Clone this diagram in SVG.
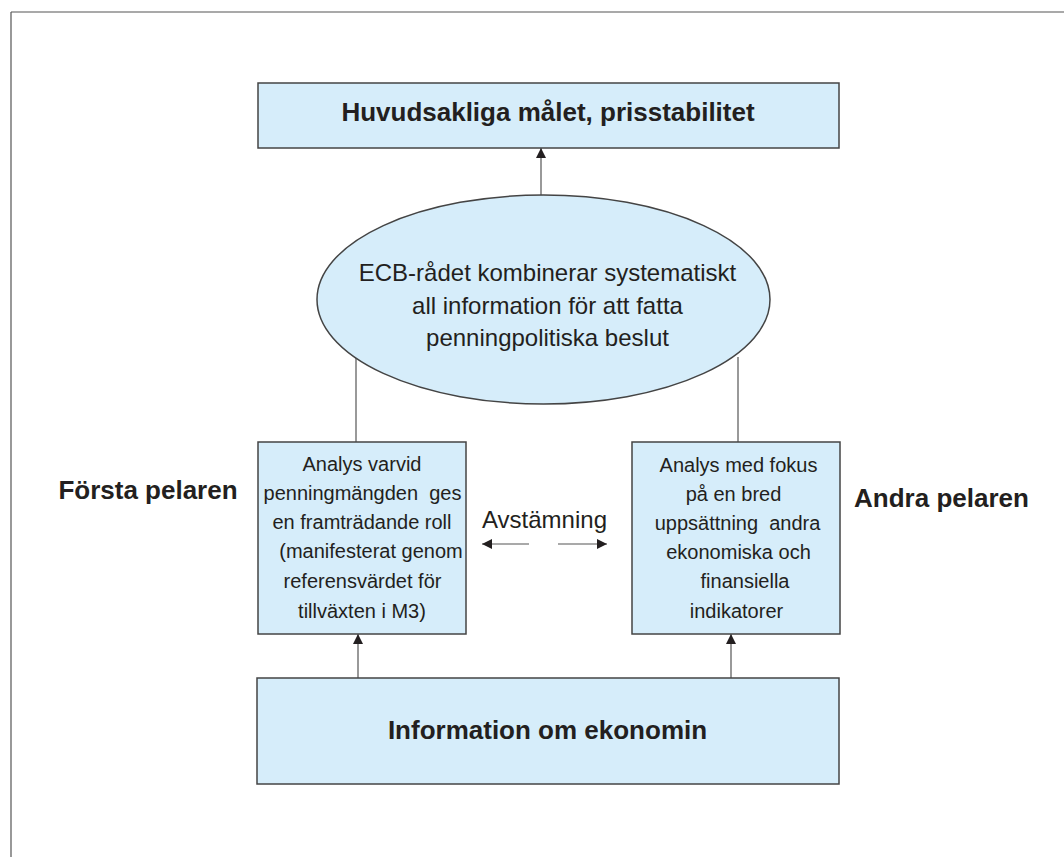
<svg xmlns="http://www.w3.org/2000/svg" width="1064" height="857" viewBox="0 0 1064 857">
<defs>
<style>
.box{fill:#d6edfa;stroke:#444;stroke-width:1.5}
.ln{stroke:#555;stroke-width:1.2;fill:none}
.t{font-family:"Liberation Sans",Arial,sans-serif;fill:#231f20;text-anchor:middle}
.b{font-weight:bold;font-size:26px}
.r20{font-size:20px}
.r24{font-size:24px}
.pre{white-space:pre}
</style>
<marker id="ah" viewBox="0 0 10 10" refX="10" refY="5" markerWidth="12" markerHeight="10" markerUnits="userSpaceOnUse" orient="auto">
<path d="M0,0 L10,5 L0,10 Z" fill="#231f20"/>
</marker>
</defs>
<rect width="1064" height="857" fill="#fff"/>
<g id="frame">
<path class="ln" d="M11,12 H1064 M11,12 V857" stroke="#444"/>
</g>
<g id="connectors">
<line class="ln" x1="541" y1="195" x2="541" y2="148" marker-end="url(#ah)"/>
<line class="ln" x1="356" y1="358" x2="356" y2="442"/>
<line class="ln" x1="738" y1="357" x2="738" y2="442"/>
<line class="ln" x1="358" y1="678" x2="358" y2="634" marker-end="url(#ah)"/>
<line class="ln" x1="731" y1="678" x2="731" y2="634" marker-end="url(#ah)"/>
<line class="ln" x1="529" y1="544" x2="482" y2="544" marker-end="url(#ah)"/>
<line class="ln" x1="558" y1="544" x2="607" y2="544" marker-end="url(#ah)"/>
</g>
<g id="goal">
<rect class="box" x="258" y="83" width="581" height="65"/>
<text class="t b" x="548" y="121">Huvudsakliga målet, prisstabilitet</text>
</g>
<g id="council">
<ellipse class="box" cx="543.5" cy="299.5" rx="226.5" ry="104.5"/>
<text class="t r24" x="547.5" y="281">ECB-rådet kombinerar systematiskt</text>
<text class="t r24" x="547.5" y="314">all information för att fatta</text>
<text class="t r24" x="547.5" y="346">penningpolitiska beslut</text>
</g>
<g id="pillar1">
<rect class="box" x="258" y="442" width="208" height="192"/>
<text class="t r20" x="362" y="471">Analys varvid</text>
<text class="t r20 pre" x="362.5" y="500">penningmängden  ges</text>
<text class="t r20" x="362" y="529">en framträdande roll</text>
<text class="t r20" x="371" y="558">(manifesterat genom</text>
<text class="t r20" x="362.5" y="588">referensvärdet för</text>
<text class="t r20" x="362" y="618">tillväxten i M3)</text>
</g>
<g id="pillar2">
<rect class="box" x="632" y="442" width="208" height="192"/>
<text class="t r20" x="738.5" y="472">Analys med fokus</text>
<text class="t r20" x="733.5" y="501">på en bred</text>
<text class="t r20 pre" x="737.5" y="530">uppsättning  andra</text>
<text class="t r20" x="738.5" y="559">ekonomiska och</text>
<text class="t r20" x="745" y="588">finansiella</text>
<text class="t r20" x="736.5" y="618">indikatorer</text>
</g>
<g id="label1">
<text class="t b" x="148" y="499">Första pelaren</text>
</g>
<g id="label2">
<text class="t b" x="941.5" y="507">Andra pelaren</text>
</g>
<g id="reconcile">
<text class="t r24" x="544.5" y="528">Avstämning</text>
</g>
<g id="info">
<rect class="box" x="257" y="678" width="582" height="106"/>
<text class="t b" x="547.5" y="739">Information om ekonomin</text>
</g>
</svg>
